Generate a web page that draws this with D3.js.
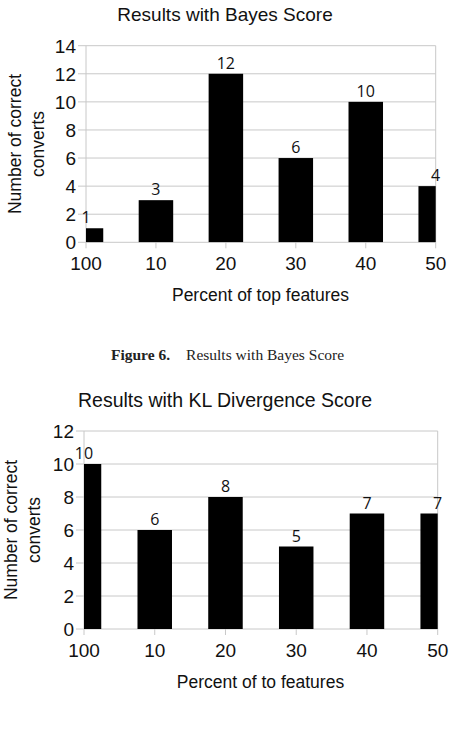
<!DOCTYPE html>
<html>
<head>
<meta charset="utf-8">
<script src="https://cdn.jsdelivr.net/npm/d3@7"></script>
<style>
  body { margin: 0; background: #fff; }
  svg { display: block; }
</style>
</head>
<body>
<div id="chart"></div>
<script>
const categories = ["100", "10", "20", "30", "40", "50"];
const bayesValues = [1, 3, 12, 6, 10, 4];
const klValues = [10, 6, 8, 5, 7, 7];
const bayesTicks = [0, 2, 4, 6, 8, 10, 12, 14];
const klTicks = [0, 2, 4, 6, 8, 10, 12];

const W = 451, H = 729;
const svg = d3.select("#chart").append("svg")
  .attr("width", W)
  .attr("height", H);

const sans = "'Liberation Sans', Arial, sans-serif";
const labelFont = "'Open Sans', 'Noto Sans', sans-serif";

function drawChart(opt) {
  const g = svg.append("g");
  const x = d3.scalePoint().domain(categories).range([opt.left, opt.right]);
  const y = d3.scaleLinear().domain([0, d3.max(opt.ticks)]).range([opt.bottom, opt.top]);
  const barW = 34.5;

  // gridlines + y ticks
  g.selectAll("line.grid")
    .data(opt.ticks)
    .enter().append("line")
    .attr("x1", opt.left - 8)
    .attr("x2", opt.right)
    .attr("y1", d => y(d))
    .attr("y2", d => y(d))
    .attr("stroke", "#c8c8c8")
    .attr("stroke-width", 1);

  // left and right borders
  [opt.left, opt.right].forEach(px => {
    g.append("line")
      .attr("x1", px).attr("x2", px)
      .attr("y1", opt.top).attr("y2", opt.bottom)
      .attr("stroke", "#c8c8c8");
  });

  // x ticks
  g.selectAll("line.xt")
    .data(categories)
    .enter().append("line")
    .attr("x1", d => x(d)).attr("x2", d => x(d))
    .attr("y1", opt.bottom).attr("y2", opt.bottom + 6)
    .attr("stroke", "#c8c8c8");

  // bars, clipped to plot area
  const clipId = "clip-" + opt.id;
  svg.append("clipPath").attr("id", clipId)
    .append("rect")
    .attr("x", opt.left).attr("y", opt.top - 20)
    .attr("width", opt.right - opt.left)
    .attr("height", opt.bottom - opt.top + 20);

  g.append("g").attr("clip-path", `url(#${clipId})`)
    .selectAll("rect")
    .data(opt.values)
    .enter().append("rect")
    .attr("x", (d, i) => x(categories[i]) - barW / 2)
    .attr("y", d => y(d))
    .attr("width", barW)
    .attr("height", d => opt.bottom - y(d))
    .attr("fill", "#000");

  // data labels
  g.selectAll("text.val")
    .data(opt.values)
    .enter().append("text")
    .attr("x", (d, i) => x(categories[i]))
    .attr("y", d => y(d) - 5)
    .attr("text-anchor", "middle")
    .attr("font-family", labelFont)
    .attr("font-size", 16)
    .attr("fill", "#111")
    .text(d => d);

  // y tick labels
  g.selectAll("text.yt")
    .data(opt.ticks)
    .enter().append("text")
    .attr("x", opt.left - 10)
    .attr("y", d => y(d))
    .attr("dy", "0.36em")
    .attr("text-anchor", "end")
    .attr("font-family", sans)
    .attr("font-size", 19)
    .attr("fill", "#111")
    .text(d => d);

  // x tick labels
  g.selectAll("text.xl")
    .data(categories)
    .enter().append("text")
    .attr("x", d => x(d))
    .attr("y", opt.bottom + 28)
    .attr("text-anchor", "middle")
    .attr("font-family", sans)
    .attr("font-size", 19)
    .attr("fill", "#111")
    .text(d => d);

  // title
  g.append("text")
    .attr("x", 225)
    .attr("y", opt.titleY)
    .attr("text-anchor", "middle")
    .attr("font-family", sans)
    .attr("font-size", opt.titleSize)
    .attr("fill", "#111")
    .text(opt.title);

  // x axis title
  g.append("text")
    .attr("x", 260.5)
    .attr("y", opt.xTitleY)
    .attr("text-anchor", "middle")
    .attr("font-family", sans)
    .attr("font-size", 17.5)
    .attr("fill", "#111")
    .text(opt.xTitle);

  // y axis title, two lines
  const cy = (opt.top + opt.bottom) / 2;
  const yt = g.append("text")
    .attr("transform", `translate(${opt.yTitleX},${cy}) rotate(-90)`)
    .attr("text-anchor", "middle")
    .attr("font-family", sans)
    .attr("font-size", 17.5)
    .attr("fill", "#111");
  yt.append("tspan").attr("x", 0).attr("dy", 0).text("Number of correct");
  yt.append("tspan").attr("x", 0).attr("dy", "1.3em").text("converts");
}

drawChart({
  id: "bayes",
  values: bayesValues,
  ticks: bayesTicks,
  left: 86, right: 435.7, top: 45.7, bottom: 242.3,
  title: "Results with Bayes Score",
  titleSize: 19,
  titleY: 21,
  xTitle: "Percent of top features",
  xTitleY: 301,
  yTitleX: 21
});

drawChart({
  id: "kl",
  values: klValues,
  ticks: klTicks,
  left: 84, right: 437.7, top: 431, bottom: 629,
  title: "Results with KL Divergence Score",
  titleSize: 19.5,
  titleY: 407,
  xTitle: "Percent of to features",
  xTitleY: 688,
  yTitleX: 17
});

// figure caption between the charts
const cap = svg.append("text")
  .attr("x", 227.5)
  .attr("y", 360)
  .attr("text-anchor", "middle")
  .attr("font-family", "'Liberation Serif', 'Times New Roman', serif")
  .attr("font-size", 15.5)
  .attr("fill", "#222");
cap.append("tspan").attr("font-weight", "bold").text("Figure 6.");
cap.append("tspan").attr("dx", 16).text("Results with Bayes Score");
</script>
</body>
</html>
